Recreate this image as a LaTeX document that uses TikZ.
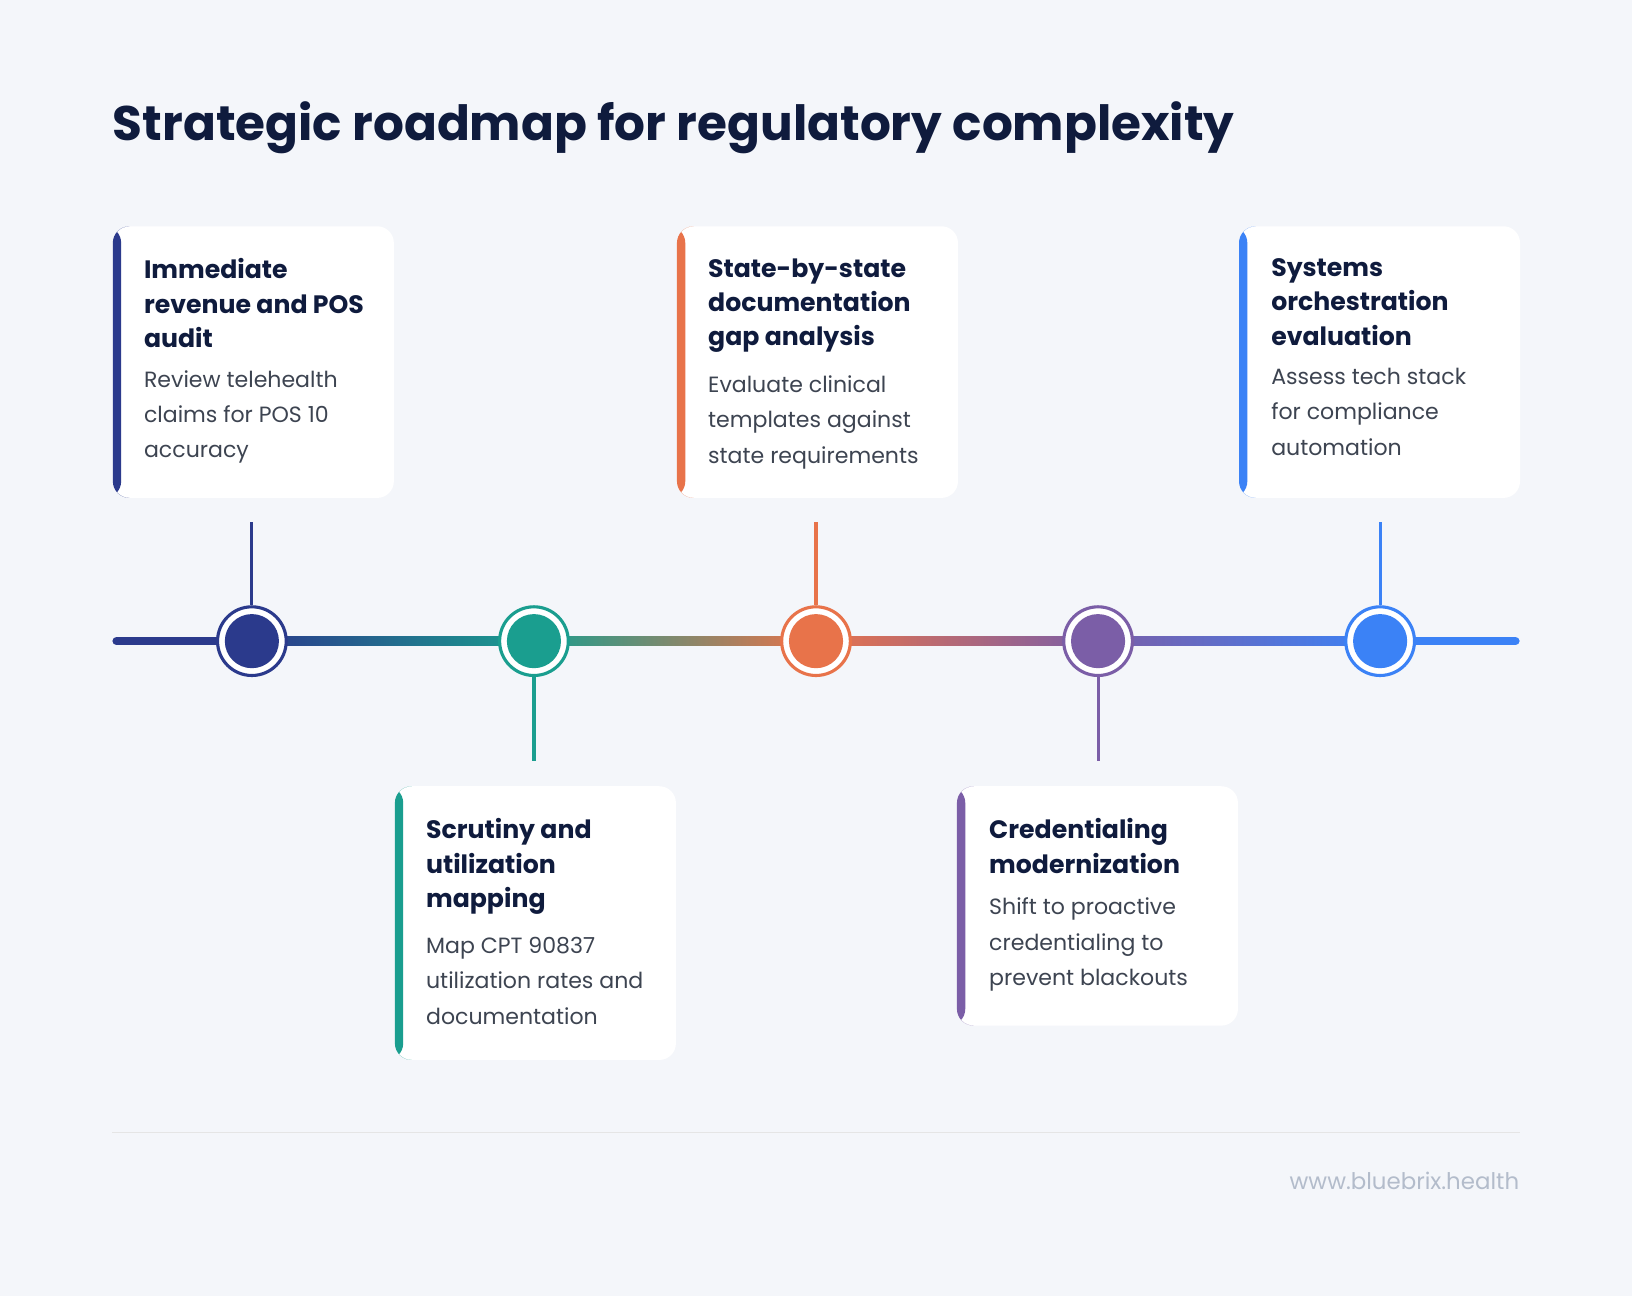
\documentclass[tikz,border=0pt]{standalone}
\usepackage{fontspec}
\setmainfont{Poppins}
\usetikzlibrary{positioning}
\definecolor{pagebg}{HTML}{F4F6FA}
\definecolor{ink}{HTML}{0F1B3D}
\definecolor{bodytxt}{HTML}{3D4451}
\definecolor{sitetxt}{HTML}{B3BCCB}
\definecolor{navy}{HTML}{2B3A8C}
\definecolor{teal}{HTML}{1A9E8F}
\definecolor{coral}{HTML}{E8734A}
\definecolor{violet}{HTML}{7B5EA7}
\definecolor{sky}{HTML}{3B82F6}
\tikzset{
  card/.style={fill=white, rounded corners=8pt, inner sep=0pt, anchor=north west,
    minimum width=135pt,
    path picture={\fill[#1] (path picture bounding box.north west) rectangle
      ([xshift=4pt]path picture bounding box.south west);}},
  cardhead/.style={anchor=north west, inner sep=0pt, align=left, text=ink,
    font=\bfseries\fontsize{12.1}{16.5}\selectfont},
  cardbody/.style={anchor=north west, inner sep=0pt, align=left, text=bodytxt,
    font=\fontsize{10.6}{17}\selectfont},
  dot/.style={circle, draw=#1, fill=white, line width=1.5pt, minimum size=33pt, inner sep=0pt},
  stem/.style={draw=#1, line width=1.5pt}
}
\begin{document}
\begin{tikzpicture}[x=0.5pt,y=-0.5pt]
\fill[pagebg] (0,0) rectangle (1568,1245);

\node[anchor=base west, inner sep=0pt, text=ink,
    font=\bfseries\fontsize{23.3}{27}\selectfont] (title) at (108,135)
    {Strategic roadmap for regulatory complexity};

% cards
\node[card=navy, minimum height=130.5pt] (card1) at (108,217) {};
\node[cardhead] (head1) at (138,248) {Immediate\\revenue and POS\\audit};
\node[cardbody, below=10.5pt of head1.south west, anchor=north west] (body1)
    {Review telehealth\\claims for POS 10\\accuracy};

\node[card=teal, minimum height=131.5pt] (card2) at (379,755) {};
\node[cardhead] (head2) at (409,786) {Scrutiny and\\utilization\\mapping};
\node[cardbody, below=10.5pt of head2.south west, anchor=north west] (body2)
    {Map CPT 90837\\utilization rates and\\documentation};

\node[card=coral, minimum height=130.5pt] (card3) at (650,217) {};
\node[cardhead] (head3) at (680,248) {State-by-state\\documentation\\gap analysis};
\node[cardbody, below=10.5pt of head3.south west, anchor=north west] (body3)
    {Evaluate clinical\\templates against\\state requirements};

\node[card=violet, minimum height=115pt] (card4) at (919,755) {};
\node[cardhead] (head4) at (950,786) {Credentialing\\modernization};
\node[cardbody, below=11.5pt of head4.south west, anchor=north west] (body4)
    {Shift to proactive\\credentialing to\\prevent blackouts};

\node[card=sky, minimum height=130.5pt] (card5) at (1190,217) {};
\node[cardhead] (head5) at (1221,248) {Systems\\orchestration\\evaluation};
\node[cardbody, below=10.5pt of head5.south west, anchor=north west] (body5)
    {Assess tech stack\\for compliance\\automation};

% timeline
\draw[navy, line width=4pt, line cap=round] (112,616) -- (242,616);
\draw[sky, line width=4pt, line cap=round] (1326,616) -- (1456,616);
\shade[left color=navy, right color=teal] (242,612) rectangle (513,620);
\shade[left color=teal, right color=coral] (513,612) rectangle (784,620);
\shade[left color=coral, right color=violet] (784,612) rectangle (1055,620);
\shade[left color=violet, right color=sky] (1055,612) rectangle (1326,620);

\node[dot=navy] (dot1) at (242,616) {};
\node[dot=teal] (dot2) at (513,616) {};
\node[dot=coral] (dot3) at (784,616) {};
\node[dot=violet] (dot4) at (1055,616) {};
\node[dot=sky] (dot5) at (1326,616) {};
\fill[navy] (dot1) circle (13pt);
\fill[teal] (dot2) circle (13pt);
\fill[coral] (dot3) circle (13pt);
\fill[violet] (dot4) circle (13pt);
\fill[sky] (dot5) circle (13pt);

\coordinate (tip1) at (242,502);
\coordinate (tip2) at (513,731);
\coordinate (tip3) at (784,502);
\coordinate (tip4) at (1055,731);
\coordinate (tip5) at (1326,502);
\draw[stem=navy] (tip1) -- (dot1);
\draw[stem=teal] (dot2) -- (tip2);
\draw[stem=coral] (tip3) -- (dot3);
\draw[stem=violet] (dot4) -- (tip4);
\draw[stem=sky] (tip5) -- (dot5);

% footer
\coordinate (ruleL) at (108,1088);
\coordinate (ruleR) at (1460,1088);
\draw[black!10, line width=0.6pt] (ruleL) -- (ruleR);
\node[anchor=base east, inner sep=0pt, text=sitetxt,
    font=\fontsize{11}{13}\selectfont] (site) at (1460,1143) {www.bluebrix.health};
\end{tikzpicture}
\end{document}
